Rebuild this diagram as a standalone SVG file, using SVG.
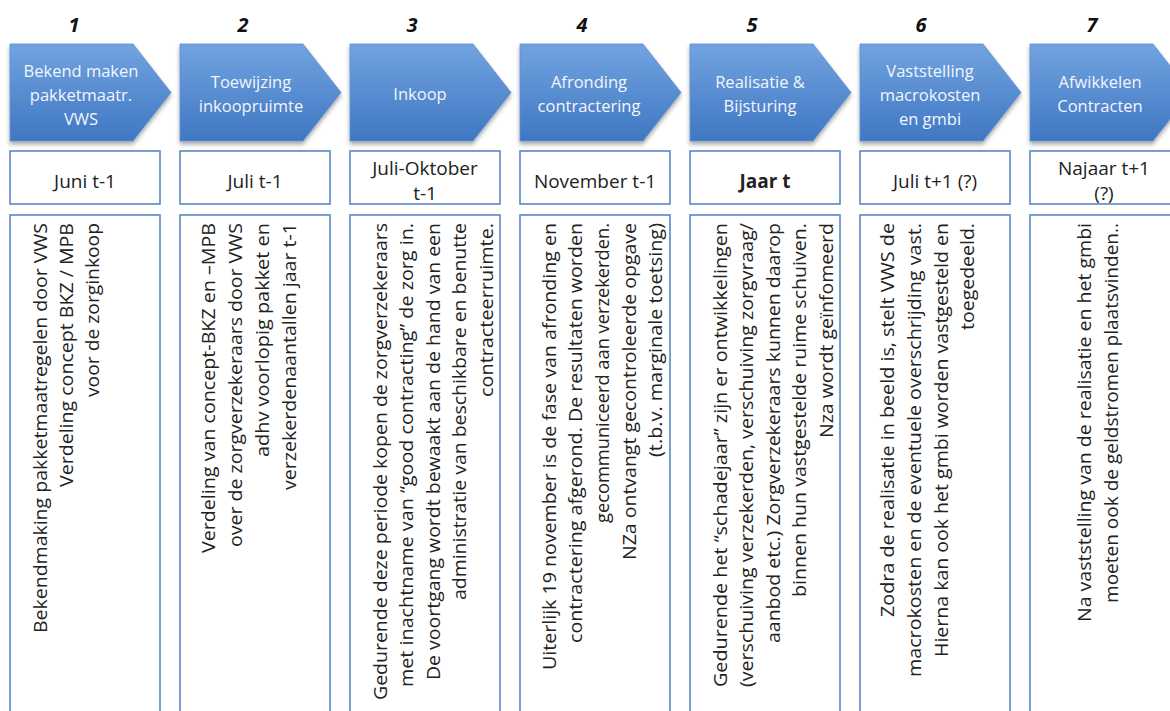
<svg xmlns="http://www.w3.org/2000/svg" width="1170" height="711" viewBox="0 0 1170 711">
<defs>
<linearGradient id="chevGrad" x1="0" y1="0" x2="0" y2="1">
<stop offset="0" stop-color="#72a3df"/>
<stop offset="1" stop-color="#3f77c3"/>
</linearGradient>
<filter id="shadow" x="-10%" y="-10%" width="130%" height="130%">
<feDropShadow dx="0" dy="3" stdDeviation="2" flood-color="#000" flood-opacity="0.35"/>
</filter>
<path id="chev" d="M0,44 H123 L161,92.5 L123,141 H0 Z"/>
</defs>
<style>
.chev{fill:url(#chevGrad);stroke:#5f8fd0;stroke-width:0.8;filter:url(#shadow)}
.num{font-family:"Open Sans","DejaVu Sans",sans-serif;font-weight:bold;font-style:italic;font-size:20px;fill:#111;text-anchor:middle}
.ct{font-family:"Open Sans","DejaVu Sans",sans-serif;font-size:16.5px;fill:#f2f6fc;text-anchor:middle}
.box{fill:#fff;stroke:#5b87c5;stroke-width:1.6}
.dt{font-family:"Open Sans","DejaVu Sans",sans-serif;font-size:19px;fill:#222;text-anchor:middle}
.dtb{font-weight:bold}
.rt{font-family:"Open Sans","DejaVu Sans",sans-serif;font-size:19px;fill:#222}
</style>
<rect width="1170" height="711" fill="#fff"/>
<g id="connectors"/>

<g id="phase1">
<text class="num" x="74" y="32">1</text>
<use href="#chev" x="10" class="chev"/>
<text class="ct" x="81" y="77">Bekend maken</text>
<text class="ct" x="81" y="101">pakketmaatr.</text>
<text class="ct" x="81" y="125">VWS</text>
<rect class="box" x="10" y="151" width="150" height="53"/>
<text class="dt" x="85" y="188">Juni t-1</text>
<rect class="box" x="10" y="215" width="150" height="520"/>
<text class="rt" transform="rotate(-90 47 633)" x="47" y="633" textLength="410" lengthAdjust="spacingAndGlyphs">Bekendmaking pakketmaatregelen door VWS</text>
<text class="rt" transform="rotate(-90 73 487)" x="73" y="487" textLength="264" lengthAdjust="spacingAndGlyphs">Verdeling concept BKZ / MPB</text>
<text class="rt" transform="rotate(-90 99 397)" x="99" y="397" textLength="174" lengthAdjust="spacingAndGlyphs">voor de zorginkoop</text>
</g>

<g id="phase2">
<text class="num" x="243" y="32">2</text>
<use href="#chev" x="180" class="chev"/>
<text class="ct" x="251" y="88">Toewijzing</text>
<text class="ct" x="251" y="112">inkoopruimte</text>
<rect class="box" x="180" y="151" width="150" height="53"/>
<text class="dt" x="255" y="188">Juli t-1</text>
<rect class="box" x="180" y="215" width="150" height="520"/>
<text class="rt" transform="rotate(-90 215 553)" x="215" y="553" textLength="330" lengthAdjust="spacingAndGlyphs">Verdeling van concept-BKZ en –MPB</text>
<text class="rt" transform="rotate(-90 242 547)" x="242" y="547" textLength="324" lengthAdjust="spacingAndGlyphs">over de zorgverzekeraars door VWS</text>
<text class="rt" transform="rotate(-90 269 457)" x="269" y="457" textLength="234" lengthAdjust="spacingAndGlyphs">adhv  voorlopig pakket en</text>
<text class="rt" transform="rotate(-90 296 490)" x="296" y="490" textLength="267" lengthAdjust="spacingAndGlyphs">verzekerdenaantallen jaar t-1</text>
</g>

<g id="phase3">
<text class="num" x="412" y="32">3</text>
<use href="#chev" x="350" class="chev"/>
<text class="ct" x="420" y="100">Inkoop</text>
<rect class="box" x="350" y="151" width="150" height="53"/>
<text class="dt" x="425" y="175">Juli-Oktober</text>
<text class="dt" x="425" y="200">t-1</text>
<rect class="box" x="350" y="215" width="150" height="520"/>
<text class="rt" transform="rotate(-90 387 700)" x="387" y="700" textLength="477" lengthAdjust="spacingAndGlyphs">Gedurende deze periode kopen de zorgverzekeraars</text>
<text class="rt" transform="rotate(-90 413 687)" x="413" y="687" textLength="464" lengthAdjust="spacingAndGlyphs">met inachtname van “good contracting” de zorg in.</text>
<text class="rt" transform="rotate(-90 440 680)" x="440" y="680" textLength="457" lengthAdjust="spacingAndGlyphs">De voortgang wordt bewaakt aan de hand van een</text>
<text class="rt" transform="rotate(-90 466 600)" x="466" y="600" textLength="377" lengthAdjust="spacingAndGlyphs">administratie van beschikbare en benutte</text>
<text class="rt" transform="rotate(-90 493 397)" x="493" y="397" textLength="174" lengthAdjust="spacingAndGlyphs">contracteerruimte.</text>
</g>

<g id="phase4">
<text class="num" x="582" y="32">4</text>
<use href="#chev" x="520" class="chev"/>
<text class="ct" x="589" y="88">Afronding</text>
<text class="ct" x="589" y="112">contractering</text>
<rect class="box" x="520" y="151" width="150" height="53"/>
<text class="dt" x="595" y="188">November t-1</text>
<rect class="box" x="520" y="215" width="150" height="520"/>
<text class="rt" transform="rotate(-90 556 670)" x="556" y="670" textLength="447" lengthAdjust="spacingAndGlyphs">Uiterlijk 19 november is de fase van afronding en</text>
<text class="rt" transform="rotate(-90 582 643)" x="582" y="643" textLength="420" lengthAdjust="spacingAndGlyphs">contractering afgerond. De resultaten worden</text>
<text class="rt" transform="rotate(-90 609 523)" x="609" y="523" textLength="300" lengthAdjust="spacingAndGlyphs">gecommuniceerd aan verzekerden.</text>
<text class="rt" transform="rotate(-90 636 560)" x="636" y="560" textLength="337" lengthAdjust="spacingAndGlyphs">NZa ontvangt gecontroleerde opgave</text>
<text class="rt" transform="rotate(-90 662 457)" x="662" y="457" textLength="234" lengthAdjust="spacingAndGlyphs">(t.b.v. marginale toetsing)</text>
</g>

<g id="phase5">
<text class="num" x="752" y="32">5</text>
<use href="#chev" x="690" class="chev"/>
<text class="ct" x="760" y="88">Realisatie &amp;</text>
<text class="ct" x="760" y="112">Bijsturing</text>
<rect class="box" x="690" y="151" width="150" height="53"/>
<text class="dt dtb" x="765" y="188">Jaar t</text>
<rect class="box" x="690" y="215" width="150" height="520"/>
<text class="rt" transform="rotate(-90 727 687)" x="727" y="687" textLength="464" lengthAdjust="spacingAndGlyphs">Gedurende het “schadejaar”  zijn er ontwikkelingen</text>
<text class="rt" transform="rotate(-90 753 687)" x="753" y="687" textLength="464" lengthAdjust="spacingAndGlyphs">(verschuiving verzekerden, verschuiving zorgvraag/</text>
<text class="rt" transform="rotate(-90 780 643)" x="780" y="643" textLength="420" lengthAdjust="spacingAndGlyphs">aanbod etc.) Zorgverzekeraars kunnen daarop</text>
<text class="rt" transform="rotate(-90 806 597)" x="806" y="597" textLength="374" lengthAdjust="spacingAndGlyphs">binnen hun vastgestelde ruime schuiven.</text>
<text class="rt" transform="rotate(-90 833 438)" x="833" y="438" textLength="215" lengthAdjust="spacingAndGlyphs">Nza wordt geïnfomeerd</text>
</g>

<g id="phase6">
<text class="num" x="921" y="32">6</text>
<use href="#chev" x="860" class="chev"/>
<text class="ct" x="930" y="77">Vaststelling</text>
<text class="ct" x="930" y="101">macrokosten</text>
<text class="ct" x="930" y="125">en gmbi</text>
<rect class="box" x="860" y="151" width="150" height="53"/>
<text class="dt" x="935" y="188">Juli t+1 (?)</text>
<rect class="box" x="860" y="215" width="150" height="520"/>
<text class="rt" transform="rotate(-90 894 617)" x="894" y="617" textLength="394" lengthAdjust="spacingAndGlyphs">Zodra de realisatie in beeld is, stelt VWS de</text>
<text class="rt" transform="rotate(-90 921 677)" x="921" y="677" textLength="454" lengthAdjust="spacingAndGlyphs">macrokosten en de eventuele overschrijding vast.</text>
<text class="rt" transform="rotate(-90 948 657)" x="948" y="657" textLength="434" lengthAdjust="spacingAndGlyphs">Hierna kan ook het gmbi worden vastgesteld en</text>
<text class="rt" transform="rotate(-90 974 330)" x="974" y="330" textLength="107" lengthAdjust="spacingAndGlyphs">toegedeeld.</text>
</g>

<g id="phase7">
<text class="num" x="1092" y="32">7</text>
<use href="#chev" x="1030" class="chev"/>
<text class="ct" x="1100" y="88">Afwikkelen</text>
<text class="ct" x="1100" y="112">Contracten</text>
<rect class="box" x="1030" y="151" width="150" height="53"/>
<text class="dt" x="1104" y="175">Najaar t+1</text>
<text class="dt" x="1104" y="200">(?)</text>
<rect class="box" x="1030" y="215" width="150" height="520"/>
<text class="rt" transform="rotate(-90 1091 622)" x="1091" y="622" textLength="399" lengthAdjust="spacingAndGlyphs">Na vaststelling van de realisatie en het gmbi</text>
<text class="rt" transform="rotate(-90 1118 603)" x="1118" y="603" textLength="380" lengthAdjust="spacingAndGlyphs">moeten ook de geldstromen plaatsvinden..</text>
</g>
</svg>
